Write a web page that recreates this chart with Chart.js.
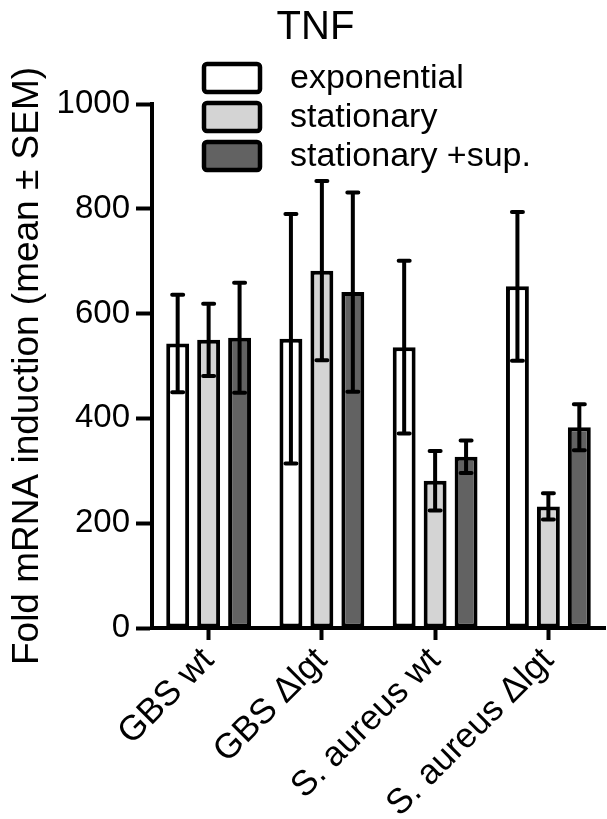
<!DOCTYPE html>
<html>
<head>
<meta charset="utf-8">
<script src="https://cdn.jsdelivr.net/npm/chart.js@4/dist/chart.umd.min.js"></script>
<style>
  html, body { margin: 0; padding: 0; background: #ffffff; }
  #wrap { width: 607px; height: 819px; }
</style>
</head>
<body>
<div id="wrap"><canvas id="c" width="607" height="819"></canvas></div>
<script>
const chartTitle = "TNF";
const yAxisTitle = "Fold mRNA induction (mean \u00b1 SEM)";
const categories = ["GBS wt", "GBS \u0394lgt", "S. aureus wt", "S. aureus \u0394lgt"];
const seriesNames = ["exponential", "stationary", "stationary +sup."];
const exponentialMean = [543, 552, 536, 652];
const exponentialSem  = [93, 238, 165, 142];
const stationaryMean  = [550, 682, 281, 232];
const stationarySem   = [69, 171, 57, 25];
const supMean         = [554, 641, 327, 383];
const supSem          = [105, 190, 31, 44];
const yTicks = [0, 200, 400, 600, 800, 1000];

const FONT = "'Liberation Sans', Arial, Helvetica, sans-serif";
const colors = ["#ffffff", "#d4d4d4", "#626262"];
const means = [exponentialMean, stationaryMean, supMean];
const sems = [exponentialSem, stationarySem, supSem];

const errorBars = {
  id: 'errorBars',
  afterDatasetsDraw(chart) {
    const ctx = chart.ctx;
    const ys = chart.scales.y;
    ctx.save();
    ctx.strokeStyle = '#000';
    ctx.lineWidth = 4;
    ctx.lineCap = 'round';
    chart.data.datasets.forEach((ds, di) => {
      const meta = chart.getDatasetMeta(di);
      meta.data.forEach((bar, i) => {
        const m = means[di][i], s = sems[di][i];
        const yHi = ys.getPixelForValue(m + s);
        const yLo = ys.getPixelForValue(m - s);
        const x = bar.x, cw = 5.5;
        ctx.beginPath();
        ctx.moveTo(x, yHi); ctx.lineTo(x, yLo);
        ctx.moveTo(x - cw, yHi); ctx.lineTo(x + cw, yHi);
        ctx.moveTo(x - cw, yLo); ctx.lineTo(x + cw, yLo);
        ctx.stroke();
      });
    });
    ctx.restore();
  }
};

const extras = {
  id: 'extras',
  afterDraw(chart) {
    const ctx = chart.ctx;
    ctx.save();
    ctx.fillStyle = '#000';
    ctx.font = "40px " + FONT;
    ctx.textAlign = 'center';
    ctx.textBaseline = 'alphabetic';
    ctx.fillText(chartTitle, 315.5, 39);
    const boxX = 204, boxW = 56, boxH = 28, rowY = [64, 103, 142];
    chart.data.datasets.forEach((ds, i) => {
      ctx.beginPath();
      if (ctx.roundRect) ctx.roundRect(boxX, rowY[i], boxW, boxH, 3);
      else ctx.rect(boxX, rowY[i], boxW, boxH);
      ctx.fillStyle = ds.backgroundColor;
      ctx.fill();
      ctx.lineWidth = 4.5;
      ctx.strokeStyle = '#000';
      ctx.stroke();
      ctx.fillStyle = '#000';
      ctx.font = "34px " + FONT;
      ctx.textAlign = 'left';
      ctx.textBaseline = 'middle';
      ctx.fillText(ds.label, 290, rowY[i] + boxH / 2 + 1);
    });
    ctx.restore();
  }
};

new Chart(document.getElementById('c'), {
  type: 'bar',
  data: {
    labels: categories,
    datasets: seriesNames.map((n, i) => ({
      label: n,
      data: means[i],
      backgroundColor: colors[i],
      borderColor: '#000',
      borderWidth: 4,
      borderSkipped: false,
      categoryPercentage: 0.82,
      barPercentage: 0.74
    }))
  },
  options: {
    responsive: false,
    animation: false,
    devicePixelRatio: 1,
    layout: { padding: { top: 104, left: 0, right: 2, bottom: 0 } },
    plugins: { legend: { display: false }, title: { display: false }, tooltip: { enabled: false } },
    scales: {
      x: {
        offset: true,
        grid: { display: true, offset: false, drawOnChartArea: false, drawTicks: true, tickLength: 12, tickWidth: 4, tickColor: '#000' },
        border: { display: true, width: 4, color: '#000' },
        ticks: { color: '#000', font: { family: FONT, size: 35 }, minRotation: 45, maxRotation: 45, autoSkip: false, padding: 0 },
        afterFit(scale) { scale.height = 191; }
      },
      y: {
        min: 0, max: 1000,
        afterBuildTicks(scale) { scale.ticks = yTicks.map(v => ({ value: v })); },
        grid: { display: true, drawOnChartArea: false, drawTicks: true, tickLength: 16, tickWidth: 4, tickColor: '#000' },
        border: { display: true, width: 4, color: '#000' },
        ticks: { color: '#000', font: { family: FONT, size: 33 }, padding: 6, callback: (v) => String(v) },
        title: { display: true, text: yAxisTitle, color: '#000', font: { family: FONT, size: 37 }, padding: { top: 6, bottom: 0 } },
        afterFit(scale) { scale.width = 152; }
      }
    }
  },
  plugins: [errorBars, extras]
});
</script>
</body>
</html>
